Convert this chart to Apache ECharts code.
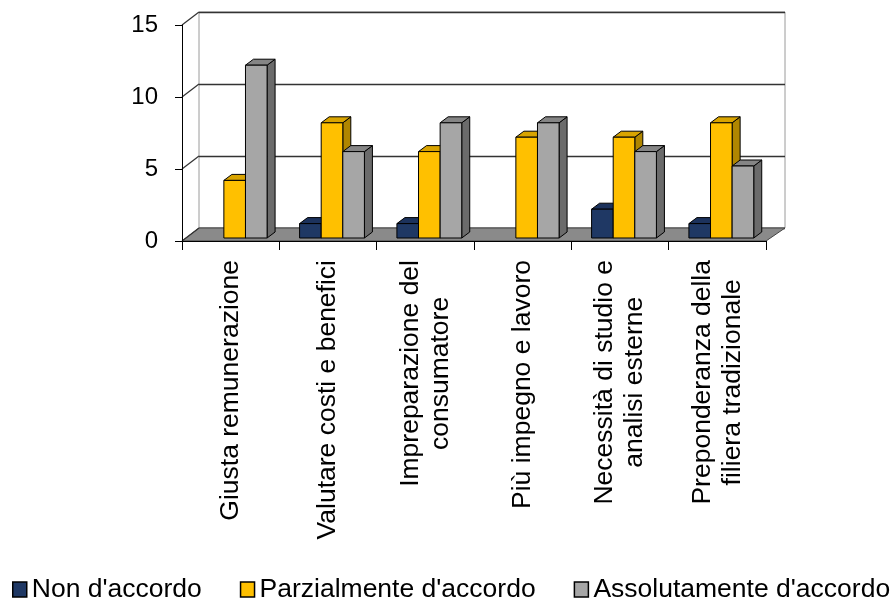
<!DOCTYPE html>
<html>
<head>
<meta charset="utf-8">
<script src="https://cdn.jsdelivr.net/npm/echarts@6/dist/echarts.min.js"></script>
<style>
  html, body { margin: 0; padding: 0; background: #fff; }
  #chart { width: 894px; height: 603px; }
</style>
</head>
<body>
<div id="chart"></div>
<script>
// Survey answers per statement
const categories = [
  'Giusta remunerazione',
  'Valutare costi e benefici',
  'Impreparazione del\nconsumatore',
  'Più impegno e lavoro',
  'Necessità di studio e\nanalisi esterne',
  'Preponderanza della\nfiliera tradizionale'
];
const seriesNames = ["Non d'accordo", "Parzialmente d'accordo", "Assolutamente d'accordo"];
const nonAccordo    = [0, 1, 1, 0, 2, 1];
const parzialmente  = [4, 8, 6, 7, 7, 8];
const assolutamente = [12, 6, 8, 8, 6, 5];
const yTicks = [0, 5, 10, 15];

const seriesValues = [nonAccordo, parzialmente, assolutamente];

// face colours: front, top, side
const faces = [
  { front: '#1F3864', top: '#1C325C', side: '#14243F' },
  { front: '#FFC000', top: '#D9A400', side: '#B08600' },
  { front: '#A6A6A6', top: '#858585', side: '#6B6B6B' }
];

// pseudo-3D geometry (pixels)
const WALL_DX = 17, WALL_DY = -13;   // depth of the floor / back wall
const BAR_DX = 4, BAR_DY = -3;       // bars sit slightly behind the front edge
const BAR_DEPTH_X = 8, BAR_DEPTH_Y = -6;
const BAR_RATIO = 0.222;             // bar width relative to category width

const FONT = "'Liberation Sans', Arial, sans-serif";

function barRenderer(s) {
  const c = faces[s];
  return function (params, api) {
    const v = api.value(1);
    if (!v) return null;
    const k = api.value(0);
    const top = api.coord([k, v]);
    const base = api.coord([k, 0]);
    const cw = api.size([1, 0])[0];
    const bw = cw * BAR_RATIO;
    const x0 = top[0] + (s - 1.5) * bw + BAR_DX;
    const y1 = top[1] + BAR_DY;
    const y0 = base[1] + BAR_DY;
    const dx = BAR_DEPTH_X, dy = BAR_DEPTH_Y;
    const line = { stroke: '#000', lineWidth: 1, lineJoin: 'round' };
    return {
      type: 'group',
      children: [
        { type: 'polygon',
          shape: { points: [[x0 + bw, y1], [x0 + bw + dx, y1 + dy], [x0 + bw + dx, y0 + dy], [x0 + bw, y0]] },
          style: Object.assign({ fill: c.side }, line) },
        { type: 'polygon',
          shape: { points: [[x0, y1], [x0 + bw, y1], [x0 + bw + dx, y1 + dy], [x0 + dx, y1 + dy]] },
          style: Object.assign({ fill: c.top }, line) },
        { type: 'rect',
          shape: { x: x0, y: y1, width: bw, height: y0 - y1 },
          style: Object.assign({ fill: c.front }, line) }
      ]
    };
  };
}

// floor of the plot box
function floorRenderer(params, api) {
  const cs = params.coordSys;
  const yb = cs.y + cs.height;
  return {
    type: 'polygon',
    shape: { points: [[cs.x, yb], [cs.x + cs.width, yb], [cs.x + cs.width + WALL_DX + 2, yb + WALL_DY], [cs.x + WALL_DX, yb + WALL_DY]] },
    style: { fill: '#8A8A8A', stroke: '#444', lineWidth: 1 }
  };
}

// gridlines running across the left side wall
function sideWallRenderer(params, api) {
  const cs = params.coordSys;
  const p = api.coord([0, api.value(1)]);
  return {
    type: 'line',
    shape: { x1: cs.x, y1: p[1], x2: cs.x + WALL_DX, y2: p[1] + WALL_DY },
    style: { stroke: '#333', lineWidth: 1.2 }
  };
}

const barSeries = seriesValues.map((vals, s) => ({
  name: seriesNames[s],
  type: 'custom',
  xAxisIndex: 0,
  yAxisIndex: 0,
  z: 3,
  renderItem: barRenderer(s),
  itemStyle: { color: faces[s].front, borderColor: '#000', borderWidth: 1 },
  encode: { x: 0, y: 1 },
  data: vals.map((v, k) => [k, v])
}));

const option = {
  animation: false,
  backgroundColor: '#fff',
  textStyle: { fontFamily: FONT },
  grid: [
    // front plane: axes and bars
    { left: 182, top: 25, width: 584, height: 216, show: false },
    // back wall
    { left: 199, top: 12, width: 586, height: 216, show: true,
      backgroundColor: '#fff', borderColor: '#9A9A9A', borderWidth: 1 }
  ],
  xAxis: [
    { type: 'category', gridIndex: 0, data: categories, z: 5,
      axisLine: { show: true, lineStyle: { color: '#000', width: 1 } },
      axisTick: { show: true, length: 9, alignWithLabel: false, lineStyle: { color: '#000' } },
      axisLabel: {
        interval: 0, rotate: 90, margin: 19, color: '#000',
        formatter: function (val) {
          return val.split('\n').map(l => '{c|' + l + '}').join('\n');
        },
        rich: { c: { fontSize: 26.5, lineHeight: 30, align: 'center', color: '#000', fontFamily: FONT } }
      },
      splitLine: { show: false } },
    { type: 'category', gridIndex: 1, data: categories, show: false }
  ],
  yAxis: [
    { type: 'value', gridIndex: 0, min: 0, max: 15, interval: 5, z: 5,
      axisLine: { show: true, lineStyle: { color: '#000', width: 1 } },
      axisTick: { show: true, length: 7, lineStyle: { color: '#000' } },
      axisLabel: { fontSize: 24, color: '#000', margin: 24, fontFamily: FONT },
      splitLine: { show: false } },
    { type: 'value', gridIndex: 1, min: 0, max: 15, interval: 5,
      axisLine: { show: false }, axisTick: { show: false }, axisLabel: { show: false },
      splitLine: { show: true, lineStyle: { color: '#333', width: 1.3 } } }
  ],
  legend: {
    type: 'plain',
    data: seriesNames,
    left: 12, top: 576, width: 882,
    padding: 0,
    icon: 'rect',
    itemWidth: 14, itemHeight: 15, itemGap: 38,
    itemStyle: { borderColor: '#000', borderWidth: 1.5 },
    textStyle: { fontSize: 26.5, color: '#000', fontFamily: FONT }
  },
  series: [
    { name: 'floor', type: 'custom', xAxisIndex: 0, yAxisIndex: 0, z: 1, silent: true,
      renderItem: floorRenderer, data: [[0, 0]] },
    { name: 'sideWall', type: 'custom', xAxisIndex: 0, yAxisIndex: 0, z: 1, silent: true,
      renderItem: sideWallRenderer, data: yTicks.map(t => [0, t]) }
  ].concat(barSeries)
};

const chart = echarts.init(document.getElementById('chart'), null, { renderer: 'canvas' });
chart.setOption(option);
</script>
</body>
</html>
